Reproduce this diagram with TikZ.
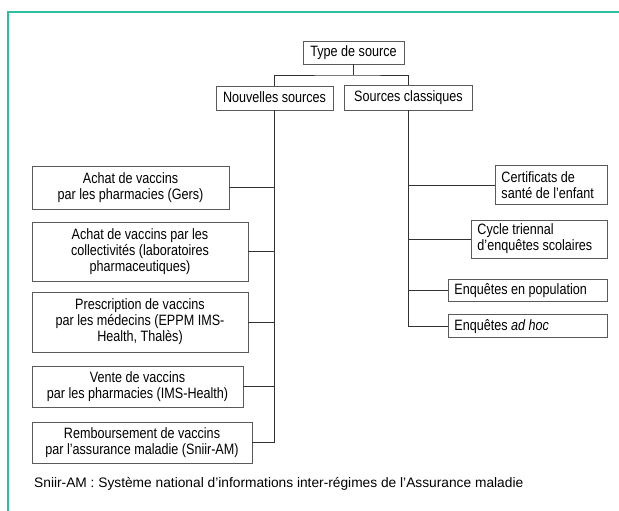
\documentclass[tikz,border=0pt]{standalone}
\usepackage{fontspec}
\setmainfont{Liberation Sans}
\newfontfamily\condf[FakeStretch=0.84]{Liberation Sans}
\definecolor{teal1}{RGB}{46,190,162}
\definecolor{boxline}{RGB}{90,90,90}
\definecolor{connline}{RGB}{50,50,50}
\begin{document}
\begin{tikzpicture}[x=1pt,y=-1pt,
  box/.style={draw=boxline, line width=0.9pt, inner sep=0pt, font=\condf\fontsize{15}{16}\selectfont, align=center},
  rbox/.style={draw=boxline, line width=0.9pt, inner xsep=6pt, inner ysep=0pt, font=\condf\fontsize{15}{16}\selectfont, align=flush left, anchor=west},
  conn/.style={draw=connline, line width=0.9pt},
  frameline/.style={draw=teal1, line width=2pt}
]
\useasboundingbox (0,0) rectangle (619,511);
% frame
\draw[frameline] (619,12.5) -- (7.5,12.5) -- (7.5,511);
% top
\node[box, minimum width=101pt, minimum height=23pt, text height=11pt, text depth=2pt] (type) at (353.5,52.5) {Type de source};
\node[box, minimum width=117pt, minimum height=24pt, text height=11pt, text depth=2pt] (nouv) at (274.5,98) {Nouvelles sources};
\node[box, minimum width=128pt, minimum height=25pt, text height=11pt, text depth=2pt] (src) at (408.5,97.5) {Sources classiques};
\coordinate (bus) at (353.5,75);
\draw[conn] (type.south) -- (bus);
\draw[conn] (nouv.north) |- (bus) -| (src.north);
% left boxes
\node[box, minimum width=197pt, minimum height=43pt] (b1) at (130.5,187.5) {Achat de vaccins\\par les pharmacies (Gers)};
\node[box, minimum width=216pt, minimum height=59pt] (b2) at (140,251.5) {Achat de vaccins par les\\collectivités (laboratoires\\pharmaceutiques)};
\node[box, minimum width=216pt, minimum height=60pt] (b3) at (140,322) {Prescription de vaccins\\par les médecins (EPPM IMS-\\Health, Thalès)};
\node[box, minimum width=211pt, minimum height=41pt] (b4) at (137.5,386.5) {Vente de vaccins\\par les pharmacies (IMS-Health)};
\node[box, minimum width=220pt, minimum height=41pt] (b5) at (142,442.5) {Remboursement de vaccins\\par l’assurance maladie (Sniir-AM)};
\draw[conn] (nouv.south) |- (b5.east);
\foreach \b in {b1,b2,b3,b4}{\draw[conn] (\b.east) -- (\b.east -| nouv.south);}
% right boxes
\node[rbox, text width=100pt, minimum height=39pt] (r1) at (495,185) {Certificats de\\santé de l’enfant};
\node[rbox, text width=124pt, minimum height=38pt] (r2) at (471,239) {Cycle triennal\\d’enquêtes scolaires};
\node[rbox, text width=147pt, minimum height=22pt, text height=11pt, text depth=2pt] (r3) at (448,290) {Enquêtes en population};
\node[rbox, text width=147pt, minimum height=23pt, text height=11pt, text depth=2pt] (r4) at (448,326) {Enquêtes \textit{ad hoc}};
\draw[conn] (src.south) |- (r4.west);
\foreach \b in {r1,r2,r3}{\draw[conn] (\b.west) -- (\b.west -| src.south);}
% footnote
\node[anchor=west, inner sep=0pt, font=\fontsize{13.75}{15}\selectfont] (note) at (34,484) {Sniir-AM : Système national d’informations inter-régimes de l’Assurance maladie};
\end{tikzpicture}
\end{document}
